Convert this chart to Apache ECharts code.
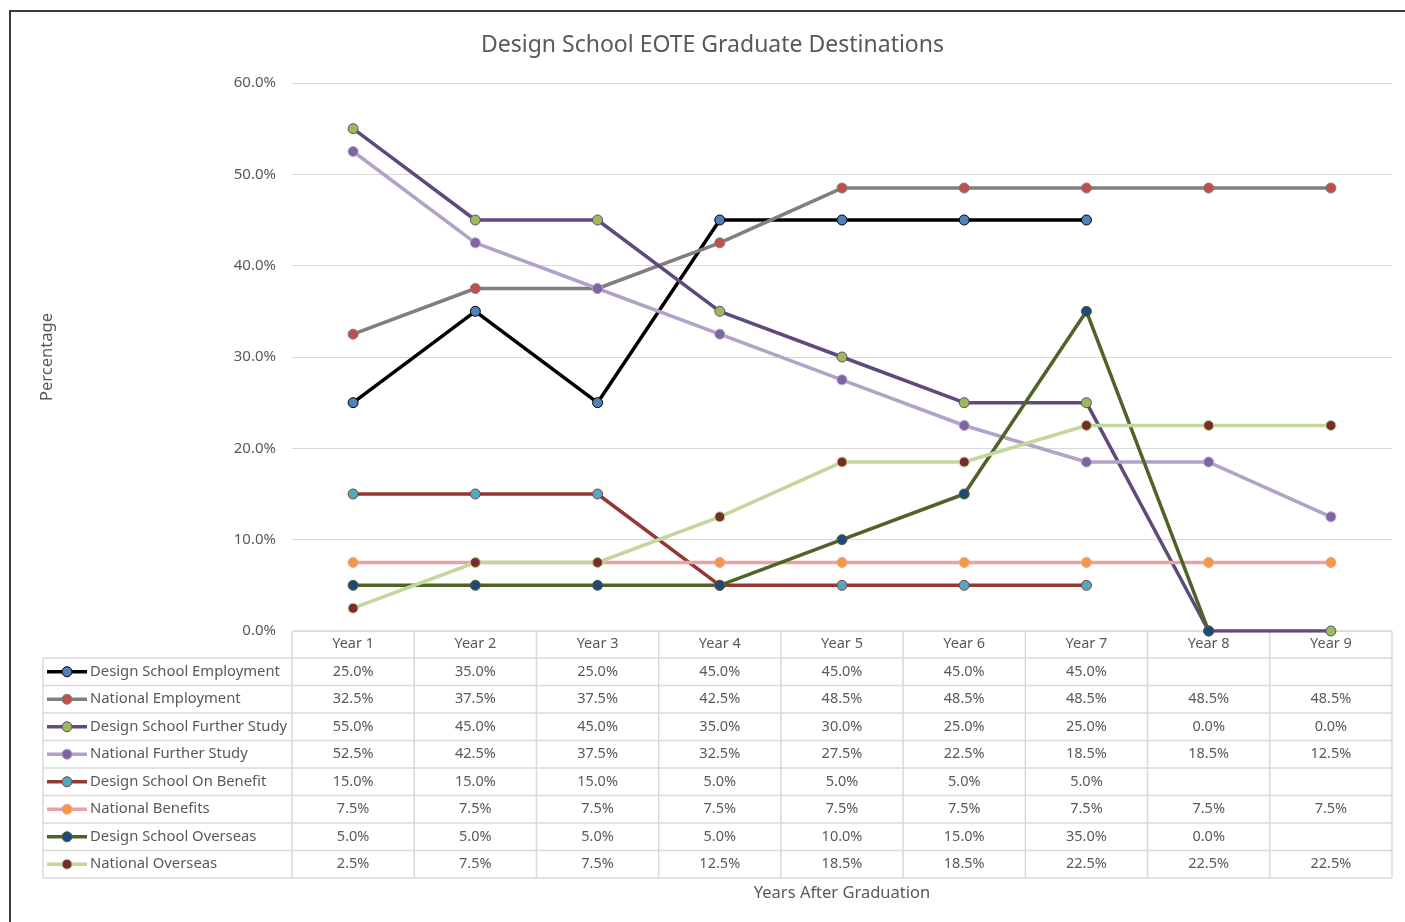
<!DOCTYPE html>
<html>
<head>
<meta charset="utf-8">
<script src="https://cdn.jsdelivr.net/npm/echarts@6/dist/echarts.min.js"></script>
<style>
html,body{margin:0;padding:0;background:#fff;}
#c{width:1405px;height:922px;}
</style>
</head>
<body>
<div id="c"></div>
<script>
var categories = ['Year 1','Year 2','Year 3','Year 4','Year 5','Year 6','Year 7','Year 8','Year 9'];
var yTicks = [0,10,20,30,40,50,60];
var seriesNames = ['Design School Employment','National Employment','Design School Further Study','National Further Study','Design School On Benefit','National Benefits','Design School Overseas','National Overseas'];
var dsEmployment   = [25.0,35.0,25.0,45.0,45.0,45.0,45.0,null,null];
var natEmployment  = [32.5,37.5,37.5,42.5,48.5,48.5,48.5,48.5,48.5];
var dsFurther      = [55.0,45.0,45.0,35.0,30.0,25.0,25.0,0.0,0.0];
var natFurther     = [52.5,42.5,37.5,32.5,27.5,22.5,18.5,18.5,12.5];
var dsBenefit      = [15.0,15.0,15.0,5.0,5.0,5.0,5.0,null,null];
var natBenefits    = [7.5,7.5,7.5,7.5,7.5,7.5,7.5,7.5,7.5];
var dsOverseas     = [5.0,5.0,5.0,5.0,10.0,15.0,35.0,0.0,null];
var natOverseas    = [2.5,7.5,7.5,12.5,18.5,18.5,22.5,22.5,22.5];

var allData = [dsEmployment,natEmployment,dsFurther,natFurther,dsBenefit,natBenefits,dsOverseas,natOverseas];
var lineColors   = ['#000000','#7F7F7F','#604A7B','#B3A2C7','#953735','#E6A5A4','#4F6228','#C3D69B'];
var markerFills  = ['#4F81BD','#C0504D','#9BBB59','#8064A2','#4BACC6','#F79646','#1F497D','#772C2A'];

var FONT = 'Noto Sans';
var TXT = '#595959';
var GRID = {left:292, right:13, top:83, bottom:291};

var chart = echarts.init(document.getElementById('c'), null, {renderer:'canvas'});

var series = allData.map(function(d,i){
  return {
    name: seriesNames[i], type:'line', data:d,
    symbol:'circle', symbolSize:10, showSymbol:true,
    connectNulls:false, animation:false,
    lineStyle:{color:lineColors[i], width:3.5},
    itemStyle:{color:markerFills[i], borderColor:lineColors[i], borderWidth:1},
    emphasis:{disabled:true}
  };
});

chart.setOption({
  animation:false,
  backgroundColor:'#fff',
  title:{text:'Design School EOTE Graduate Destinations', left:476, top:29,
    textStyle:{fontFamily:FONT, fontSize:23, fontWeight:'normal', color:TXT}},
  grid:GRID,
  xAxis:{type:'category', data:categories, boundaryGap:true,
    axisLine:{show:false}, axisTick:{show:false},
    axisLabel:{margin:5, fontFamily:FONT, fontSize:14.5, color:TXT},
    name:'Years After Graduation', nameLocation:'middle', nameGap:254,
    nameTextStyle:{fontFamily:FONT, fontSize:16.5, color:TXT}},
  yAxis:{type:'value', min:0, max:60, interval:10,
    axisLine:{show:false}, axisTick:{show:false},
    splitLine:{lineStyle:{color:'#D9D9D9', width:1}},
    axisLabel:{margin:16, fontFamily:FONT, fontSize:15, color:TXT, formatter:function(v){return v.toFixed(1)+'%';}},
    name:'Percentage', nameLocation:'middle', nameGap:236, nameRotate:90,
    nameTextStyle:{fontFamily:FONT, fontSize:16.5, color:TXT}},
  series:series
});

// Build data table from the arrays
var plotLeft = GRID.left, plotRight = 1405 - GRID.right, axisY = 922 - GRID.bottom;
var centers = categories.map(function(c,i){ return chart.convertToPixel({xAxisIndex:0}, i); });
var half = (centers[1]-centers[0])/2;
var headerH = 27, rowH = 27.5;
var tableTop = axisY + headerH;
var tableBottom = tableTop + rowH*seriesNames.length;
var legendLeft = 43;
var g = [];
var BORDER = '#D9D9D9';
function hline(x1,x2,y){ g.push({type:'line', shape:{x1:x1,y1:y,x2:x2,y2:y}, style:{stroke:BORDER, lineWidth:1.5}, silent:true}); }
function vline(x,y1,y2){ g.push({type:'line', shape:{x1:x,y1:y1,x2:x,y2:y2}, style:{stroke:BORDER, lineWidth:1.5}, silent:true}); }
hline(plotLeft, plotRight, axisY);
for (var r=0;r<=seriesNames.length;r++) hline(legendLeft, plotRight, tableTop + r*rowH);
vline(legendLeft, tableTop, tableBottom);
centers.forEach(function(cx){ vline(cx-half, axisY, tableBottom); });
vline(plotRight, axisY, tableBottom);

seriesNames.forEach(function(name,i){
  var cy = tableTop + rowH*i + rowH/2;
  g.push({type:'line', shape:{x1:47,y1:cy,x2:87,y2:cy}, style:{stroke:lineColors[i], lineWidth:3.5}, silent:true});
  g.push({type:'circle', shape:{cx:67,cy:cy,r:5}, style:{fill:markerFills[i], stroke:lineColors[i], lineWidth:1}, silent:true});
  g.push({type:'text', x:90, y:cy, style:{text:name, fontFamily:FONT, fontSize:14.8, fill:TXT, textVerticalAlign:'middle', textAlign:'left'}, silent:true});
  allData[i].forEach(function(v,j){
    if (v===null || v===undefined) return;
    g.push({type:'text', x:centers[j], y:cy, style:{text:v.toFixed(1)+'%', fontFamily:FONT, fontSize:14.5, fill:TXT, textVerticalAlign:'middle', textAlign:'center'}, silent:true});
  });
});

// outer chart frame
g.push({type:'rect', shape:{x:10,y:11,width:1430,height:940}, style:{fill:'none', stroke:'#3A3A3A', lineWidth:2}, silent:true, z:100});

chart.setOption({graphic:g});
</script>
</body>
</html>
